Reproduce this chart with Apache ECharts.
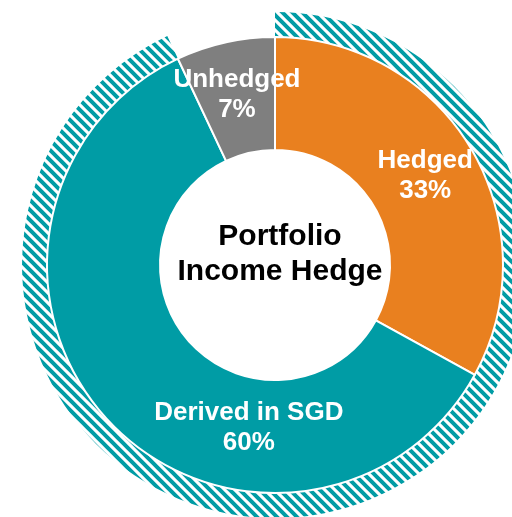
<!DOCTYPE html>
<html>
<head>
<meta charset="utf-8">
<script src="https://cdn.jsdelivr.net/npm/echarts@6/dist/echarts.min.js"></script>
<style>
html,body{margin:0;padding:0;background:#fff;}
#canvas{width:512px;height:517px;}
</style>
</head>
<body>
<div id="canvas"></div>
<script>
var categories = ['Hedged', 'Derived in SGD', 'Unhedged'];
var values = [33, 60, 7];
var colors = ['#E9801F', '#009CA5', '#7F7F7F'];
var hedgeRing = [93, 7];
var centerText = 'Portfolio\nIncome Hedge';

// hatch fill for the outer ring
function stripePattern(){
	var s = 10;
	var c = document.createElement('canvas');
	c.width = s; c.height = s;
	var ctx = c.getContext('2d');
	ctx.fillStyle = '#fff';
	ctx.fillRect(0, 0, s, s);
	ctx.strokeStyle = '#009CA5';
	ctx.lineWidth = 4;
	ctx.beginPath();
	ctx.moveTo(-s, -s); ctx.lineTo(2 * s, 2 * s);
	ctx.moveTo(-s, 0); ctx.lineTo(s, 2 * s);
	ctx.moveTo(0, -s); ctx.lineTo(2 * s, s);
	ctx.stroke();
	return c;
}

var myChart = echarts.init(document.getElementById('canvas'));
var pieData = [];
for (var i = 0; i < categories.length; i++) {
	pieData.push({name: categories[i], value: values[i], itemStyle: {color: colors[i]}});
}
var option = {
	animation: false,
	series: [
		{
			type: 'pie',
			silent: true,
			radius: [224, 253],
			center: [275, 265],
			z: 1,
			label: {show: false},
			labelLine: {show: false},
			data: [
				{value: hedgeRing[0], itemStyle: {color: {image: stripePattern(), repeat: 'repeat'}}},
				{value: hedgeRing[1], itemStyle: {color: 'rgba(0,0,0,0)'}}
			]
		},
		{
			type: 'pie',
			radius: [115, 228],
			center: [275, 265],
			z: 2,
			itemStyle: {borderColor: '#fff', borderWidth: 2},
			label: {
				show: true,
				position: 'inside',
				color: '#fff',
				fontFamily: 'Liberation Sans, Arial',
				fontWeight: 'bold',
				fontSize: 26,
				lineHeight: 30,
				formatter: function(p){ return p.name + '\n' + p.value + '%'; }
			},
			labelLayout: function(params){
				if (params.dataIndex === 1) return {dx: 101, dy: 43};
				return {};
			},
			labelLine: {show: false},
			data: pieData
		}
	],
	graphic: [{
		type: 'text',
		x: 280,
		y: 254,
		style: {
			text: centerText,
			fill: '#000',
			font: 'bold 30px "Liberation Sans", Arial',
			lineHeight: 35,
			textAlign: 'center',
			textVerticalAlign: 'middle'
		}
	}]
};
myChart.setOption(option);
</script>
</body>
</html>
